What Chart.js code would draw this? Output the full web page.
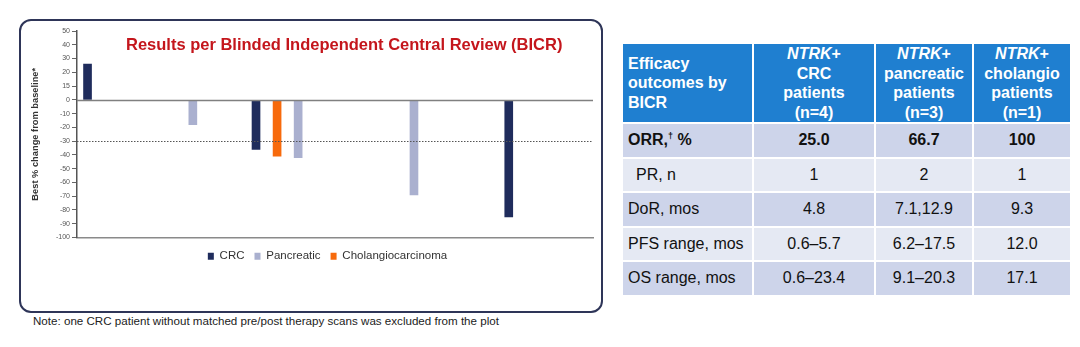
<!DOCTYPE html>
<html>
<head>
<meta charset="utf-8">
<script src="https://cdn.jsdelivr.net/npm/chart.js@4"></script>
<style>
  body { margin: 0; width: 1080px; height: 347px; position: relative; overflow: hidden; background: #fff;
         font-family: "Liberation Sans", Arial, sans-serif; }
  #panel { position: absolute; left: 19px; top: 19px; width: 580px; height: 290px;
           border: 2px solid #2e3558; border-radius: 12px; }
  #chartWrap { position: absolute; left: 22px; top: 21px; width: 576px; height: 287px; }
  #chartTitle { position: absolute; left: 126px; top: 35px; font-weight: bold; font-size: 16.5px;
                color: #c4161c; white-space: nowrap; }
  #note { position: absolute; left: 33px; top: 314px; font-size: 11.6px; color: #222; white-space: nowrap; }
  #eff { position: absolute; left: 621px; top: 42px; border-collapse: collapse; table-layout: fixed;
         font-size: 16px; color: #111; }
  #eff td, #eff th { border: 2px solid #fff; padding: 0; text-align: center; }
  #eff th { background: #1f7fd0; color: #fff; font-weight: bold; line-height: 19.5px; height: 78px; }
  #eff th.lead { text-align: left; padding-left: 5px; }
  #eff td { height: 32.5px; }
  #eff td.lead { text-align: left; padding-left: 5px; }
  #eff td.sub { padding-left: 13px; }
  #eff tr.dark td { background: #cdd4ea; }
  #eff tr.light td { background: #e5e9f3; }
  #eff tr.bold td { font-weight: bold; }
  sup { font-size: 9px; vertical-align: 6px; line-height: 0; }
</style>
</head>
<body>
<div id="panel"></div>
<div id="chartWrap"><canvas id="waterfall"></canvas></div>
<div id="chartTitle">Results per Blinded Independent Central Review (BICR)</div>

<table id="eff">
  <colgroup><col style="width:131px"><col style="width:122px"><col style="width:98px"><col style="width:98px"></colgroup>
  <tr>
    <th class="lead">Efficacy<br>outcomes by<br>BICR</th>
    <th><i>NTRK</i>+<br>CRC<br>patients<br>(n=4)</th>
    <th><i>NTRK</i>+<br>pancreatic<br>patients<br>(n=3)</th>
    <th><i>NTRK</i>+<br>cholangio<br>patients<br>(n=1)</th>
  </tr>
  <tr class="dark bold"><td class="lead">ORR,<sup>†</sup> %</td><td>25.0</td><td>66.7</td><td>100</td></tr>
  <tr class="light"><td class="lead sub">PR, n</td><td>1</td><td>2</td><td>1</td></tr>
  <tr class="dark"><td class="lead">DoR, mos</td><td>4.8</td><td>7.1,12.9</td><td>9.3</td></tr>
  <tr class="light"><td class="lead">PFS range, mos</td><td>0.6–5.7</td><td>6.2–17.5</td><td>12.0</td></tr>
  <tr class="dark"><td class="lead">OS range, mos</td><td>0.6–23.4</td><td>9.1–20.3</td><td>17.1</td></tr>
</table>

<div id="note">Note: one CRC patient without matched pre/post therapy scans was excluded from the plot</div>

<script>
// Patients in plot order: category slot, tumour type and best % change from baseline
const slotCount = 50;
const patientSlot = [1, 11, 17, 19, 21, 32, 41];
const patientType = ['CRC', 'Pancreatic', 'CRC', 'Cholangiocarcinoma', 'Pancreatic', 'Pancreatic', 'CRC'];
const bestChange = [26, -18, -36, -41, -42, -69, -85];

const tumourTypes = ['CRC', 'Pancreatic', 'Cholangiocarcinoma'];
const typeColors = ['#1f2c5c', '#aab0cf', '#f76a0c'];

// y axis ticks as printed on the slide (the 10 tick reads "15")
const yTickValues = [50, 40, 30, 20, 10, 0, -10, -20, -30, -40, -50, -60, -70, -80, -90, -100];
const yTickLabels = ['50', '40', '30', '20', '15', '0', '-10', '-20', '-30', '-40', '-50', '-60', '-70', '-80', '-90', '-100'];

const responseCutoff = -30;

const slotLabels = Array.from({ length: slotCount }, (_, i) => String(i + 1));

const datasets = tumourTypes.map((type, t) => {
  const data = new Array(slotCount).fill(null);
  patientType.forEach((p, i) => {
    if (p === type) data[patientSlot[i]] = bestChange[i];
  });
  return {
    label: type,
    data: data,
    backgroundColor: typeColors[t],
    borderWidth: 0,
    barThickness: 8,
    grouped: false
  };
});

// zero line and dotted -30% line drawn over the bars
const guideLines = {
  id: 'guideLines',
  afterDatasetsDraw(chart) {
    const { ctx, chartArea, scales: { y } } = chart;
    ctx.save();
    const y0 = Math.round(y.getPixelForValue(0)) + 0.5;
    ctx.strokeStyle = '#808080';
    ctx.lineWidth = 1.5;
    ctx.beginPath();
    ctx.moveTo(chartArea.left, y0);
    ctx.lineTo(chartArea.right, y0);
    ctx.stroke();

    const yc = Math.round(y.getPixelForValue(responseCutoff)) + 0.5;
    ctx.strokeStyle = '#555';
    ctx.lineWidth = 1;
    ctx.setLineDash([1.5, 1.5]);
    ctx.beginPath();
    ctx.moveTo(chartArea.left, yc);
    ctx.lineTo(chartArea.right, yc);
    ctx.stroke();
    ctx.restore();
  }
};

// legend sits a little right of the canvas centre and close under the axis
const legendNudge = {
  id: 'legendNudge',
  afterLayout(chart) {
    chart.legend.left += 20;
    chart.legend.right += 20;
    chart.legend.top -= 5;
    chart.legend.bottom -= 5;
  }
};

new Chart(document.getElementById('waterfall'), {
  type: 'bar',
  data: { labels: slotLabels, datasets: datasets },
  plugins: [guideLines, legendNudge],
  options: {
    responsive: true,
    maintainAspectRatio: false,
    animation: false,
    layout: { padding: { top: 10, right: 5, bottom: 31, left: 0 } },
    plugins: {
      tooltip: { enabled: false },
      legend: {
        position: 'bottom',
        labels: {
          boxWidth: 6,
          boxHeight: 7,
          padding: 10,
          color: '#333',
          font: { family: '"Liberation Sans", Arial', size: 11.5 }
        }
      }
    },
    scales: {
      x: {
        offset: false,
        grid: { display: false },
        ticks: { display: false },
        border: { display: true, color: '#8a8a8a', width: 1.5 }
      },
      y: {
        min: -100,
        max: 50,
        afterFit(scale) { scale.width = 55; },
        ticks: {
          stepSize: 10,
          padding: 2,
          color: '#555',
          font: { family: '"Liberation Sans", Arial', size: 7 },
          callback: (value) => yTickLabels[yTickValues.indexOf(value)]
        },
        grid: { drawOnChartArea: false, drawTicks: true, tickLength: 5, tickColor: '#666', tickWidth: 1 },
        border: { display: true, color: '#555', width: 1.5 },
        title: {
          display: true,
          text: 'Best % change from baseline*',
          color: '#333',
          padding: { top: 8, bottom: 0 },
          font: { family: '"Liberation Sans", Arial', size: 9.3, weight: 'bold' }
        }
      }
    }
  }
});
</script>
</body>
</html>
